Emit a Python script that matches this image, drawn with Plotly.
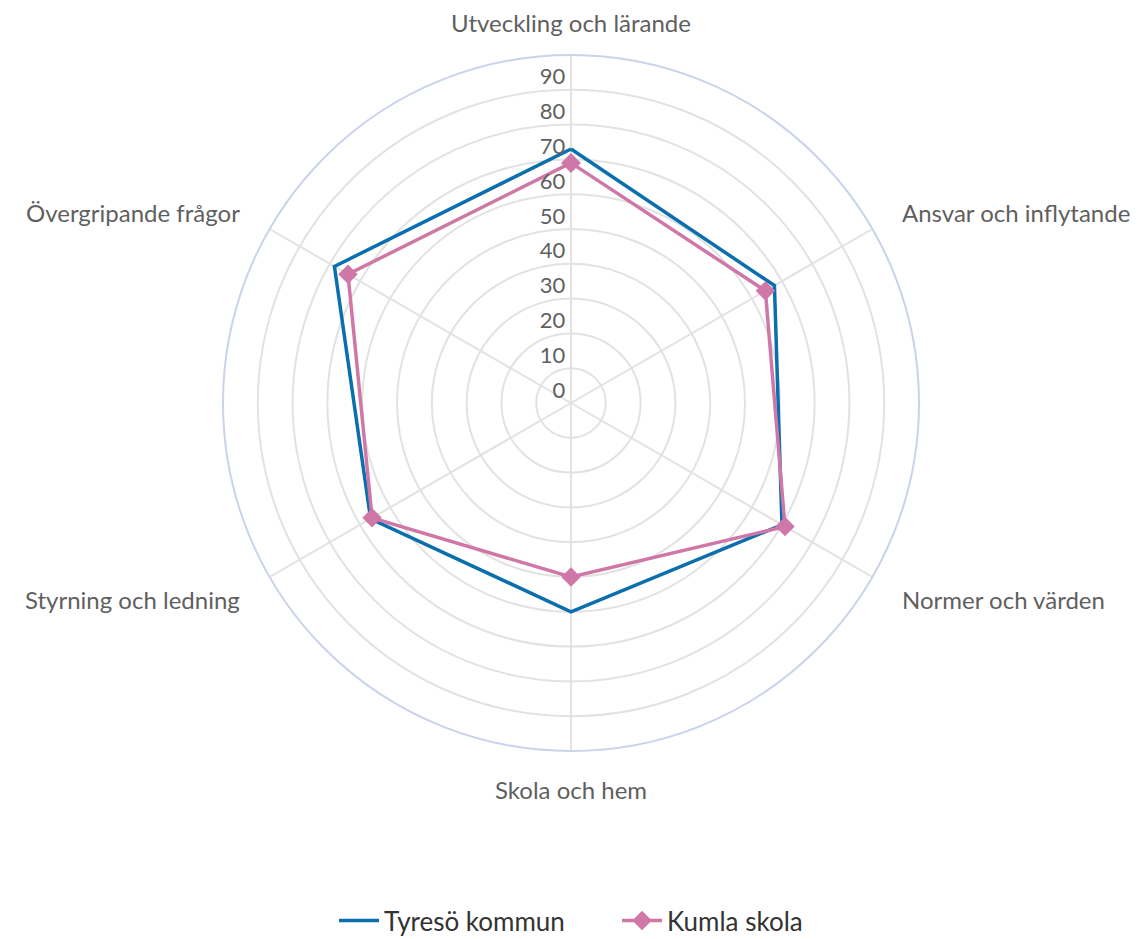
import math
import plotly.graph_objects as go

categories = ["Utveckling och lärande", "Ansvar och inflytande", "Normer och värden",
              "Skola och hem", "Styrning och ledning", "Övergripande frågor"]
tyreso = [73, 67.5, 70, 60, 66.5, 78.5]
kumla = [69, 64.5, 71, 50, 66, 74]
radial_ticks = [0, 10, 20, 30, 40, 50, 60, 70, 80, 90]

FONT = "Lato"
TXT = "#5f5f5f"
W, H = 1138, 939
DOM_X = [0.18893, 0.80053]
DOM_Y = [0.20873, 0.94994]
LABEL_GAP = 1.092  # label distance as a multiple of the polar radius

def closed(v):
    return list(v) + [v[0]]

fig = go.Figure()
fig.add_trace(go.Scatterpolar(
    r=closed(tyreso), theta=closed(categories), mode="lines",
    name="Tyresö kommun", line=dict(color="#0b6fae", width=3.5)))
fig.add_trace(go.Scatterpolar(
    r=closed(kumla), theta=closed(categories), mode="lines+markers",
    name="Kumla skola", line=dict(color="#cf78a8", width=3.5),
    marker=dict(symbol="diamond", size=15, color="#cf78a8")))
fig.add_trace(go.Scatterpolar(
    r=radial_ticks, theta=[categories[0]] * len(radial_ticks), mode="text",
    text=[str(t) + "\u00a0" for t in radial_ticks], textposition="top left",
    textfont=dict(family=FONT, size=22, color=TXT),
    showlegend=False, hoverinfo="skip"))

# category labels placed around the polar area (derived from the polar domain geometry)
cx = (DOM_X[0] + DOM_X[1]) / 2
cy = (DOM_Y[0] + DOM_Y[1]) / 2
rad_px = min((DOM_X[1] - DOM_X[0]) * W, (DOM_Y[1] - DOM_Y[0]) * H) / 2 * LABEL_GAP
annotations = []
n = len(categories)
for i, cat in enumerate(categories):
    a = math.radians(90 - 360 * i / n)
    c, s = math.cos(a), math.sin(a)
    xa = "center" if abs(c) < 0.1 else ("left" if c > 0 else "right")
    ys = -6 if s < 0 else 0
    annotations.append(dict(
        text=cat, xref="paper", yref="paper",
        x=cx + rad_px * c / W, y=cy + rad_px * s / H, yshift=ys,
        xanchor=xa, yanchor="middle", showarrow=False,
        font=dict(family=FONT, size=24, color=TXT)))

fig.update_layout(
    width=W, height=H,
    margin=dict(l=0, r=0, t=0, b=0),
    paper_bgcolor="white", plot_bgcolor="white",
    font=dict(family=FONT, color=TXT),
    annotations=annotations,
    polar=dict(
        domain=dict(x=DOM_X, y=DOM_Y),
        bgcolor="white",
        radialaxis=dict(range=[0, 100], tickvals=radial_ticks, showticklabels=False,
                        showline=False, ticks="", gridcolor="#e2e2e2", gridwidth=1.5),
        angularaxis=dict(rotation=90, direction="clockwise",
                         linecolor="#c9d3ea", linewidth=2,
                         gridcolor="#e2e2e2", gridwidth=1.5,
                         ticks="", showticklabels=False),
    ),
    showlegend=True,
    legend=dict(orientation="h", x=0.2865, xanchor="left", y=0.028, yanchor="middle",
                font=dict(family=FONT, size=26, color="#333333"),
                entrywidth=228, entrywidthmode="pixels", itemwidth=40),
)

fig.write_html("out.html")
